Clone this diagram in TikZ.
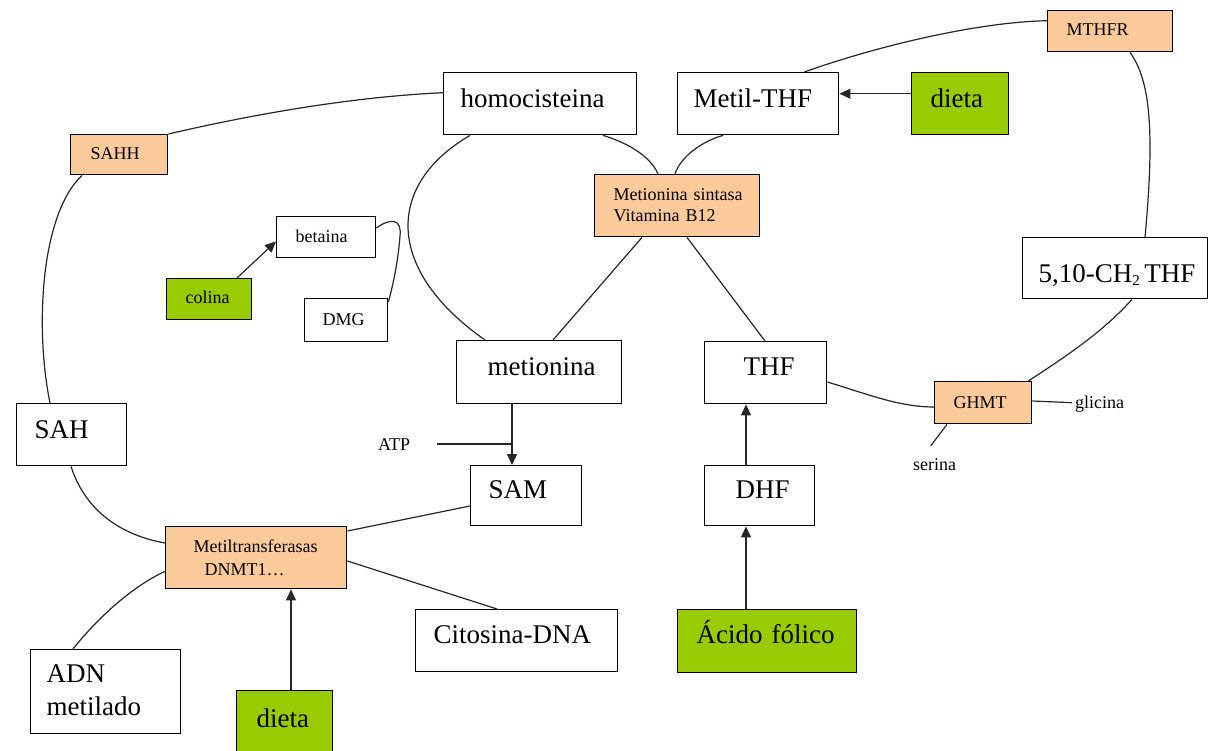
\documentclass[tikz,border=0pt]{standalone}
\usepackage{fontspec}
\setmainfont{Liberation Serif}
\usetikzlibrary{arrows.meta}
\definecolor{peach}{RGB}{251,202,154}
\definecolor{lime}{RGB}{153,204,0}
\newcommand\mysub[1]{\raisebox{-3pt}{\fontsize{15pt}{15pt}\selectfont #1}}
\tikzset{
  bx/.style={draw, line width=1.4pt, anchor=north west, inner xsep=0pt, inner ysep=0pt, align=left},
  big/.style={font=\fontsize{27pt}{33pt}\selectfont},
  sml/.style={font=\fontsize{18pt}{21pt}\selectfont},
  enz/.style={fill=peach},
  food/.style={fill=lime},
  lbl/.style={sml, inner sep=0pt, anchor=base west},
  conn/.style={line width=1.2pt, draw=black!85},
  arr/.style={conn, -{Triangle[length=11pt,width=10pt]}}
}
\begin{document}
\begin{tikzpicture}[x=1pt,y=-1pt]
\useasboundingbox (0,0) rectangle (1209,751);
\clip (0,0) rectangle (1209,751);
% boxes
\node[bx,big,text width=193pt,text height=35pt,text depth=27pt] (hom) at (443,72) {\hspace*{17pt}homocisteina};
\node[bx,big,text width=161pt,text height=35pt,text depth=27pt] (mthf) at (677,72) {\hspace*{16pt}Metil-THF};
\node[bx,big,food,text width=97pt,text height=35pt,text depth=27pt] (dieta1) at (911,72) {\hspace*{19pt}dieta};
\node[bx,sml,enz,text width=125pt,text height=25pt,text depth=16pt] (mthfr) at (1047,10) {\hspace*{19pt}MTHFR};
\node[bx,sml,enz,text width=165pt,text height=26pt,text depth=36pt] (ms) at (594,174) {\hspace*{19pt}Metionina sintasa\\\hspace*{19pt}Vitamina B12};
\node[bx,sml,enz,text width=97pt,text height=25pt,text depth=15pt] (sahh) at (70,134) {\hspace*{20pt}SAHH};
\node[bx,sml,text width=99pt,text height=26pt,text depth=15pt] (betaina) at (276,216) {\hspace*{19pt}betaina};
\node[bx,sml,food,text width=85pt,text height=25pt,text depth=16pt] (colina) at (166,278) {\hspace*{19pt}colina};
\node[bx,sml,text width=83pt,text height=27pt,text depth=16pt] (dmg) at (304,298) {\hspace*{18pt}DMG};
\node[bx,big,text width=185pt,text height=45pt,text depth=16pt] (ch2) at (1022,237) {\hspace*{16pt}5,10-CH\mysub{2}\,THF};
\node[bx,big,text width=165pt,text height=35pt,text depth=28pt] (met) at (456,340) {\hspace*{31pt}metionina};
\node[bx,big,text width=122pt,text height=34pt,text depth=28pt] (thf) at (704,341) {\hspace*{39pt}THF};
\node[bx,sml,enz,text width=97pt,text height=27pt,text depth=15pt] (ghmt) at (934,381) {\hspace*{19pt}GHMT};
\node[bx,big,text width=110pt,text height=35pt,text depth=27pt] (sah) at (16,403) {\hspace*{18pt}SAH};
\node[bx,big,text width=111pt,text height=33pt,text depth=27pt] (sam) at (470,465) {\hspace*{18pt}SAM};
\node[bx,big,text width=110pt,text height=33pt,text depth=27pt] (dhf) at (704,465) {\hspace*{31pt}DHF};
\node[bx,sml,enz,text width=181pt,text height=26pt,text depth=36pt,font=\fontsize{18pt}{23pt}\selectfont] (mt) at (165,526) {\hspace*{28pt}Metiltransferasas\\\hspace*{39pt}DNMT1…};
\node[bx,big,text width=202pt,text height=34pt,text depth=28pt] (cit) at (415,609) {\hspace*{18pt}Citosina-DNA};
\node[bx,big,food,text width=179pt,text height=34pt,text depth=29pt] (acido) at (677,609) {\hspace*{19pt}Ácido fólico};
\node[bx,big,text width=150pt,text height=33pt,text depth=51pt] (adn) at (30,649) {\hspace*{16pt}ADN\\\hspace*{16pt}metilado};
\node[bx,big,food,text width=96pt,text height=37pt,text depth=33pt] (dieta2) at (236,690) {\hspace*{20pt}dieta};
% free labels
\node[lbl] (atp) at (378,450) {ATP};
\node[lbl] (glicina) at (1075,408) {glicina};
\node[lbl] (serina) at (913,470) {serina};
\path (512,0) coordinate (jx);
\coordinate (j) at (atp.east -| jx);
% connectors
\draw[conn] (sahh.north east) .. controls (250,115) and (350,97) .. ([shift={(0,-11)}]hom.west);
\draw[conn] ([shift={(12,0)}]sahh.south west) .. controls (40,215) and (35,330) .. ([shift={(34,0)}]sah.north west);
\draw[conn] ([shift={(27,0)}]hom.south west) .. controls (385,185) and (385,270) .. ([shift={(29,0)}]met.north west);
\draw[conn] ([shift={(0,12)}]betaina.north east) .. controls (390,218) and (402,218) .. (400,236) .. controls (398,262) and (393,285) .. ([shift={(0,4)}]dmg.north east);
\draw[arr] ([shift={(71,0)}]colina.north west) -- ([shift={(0,-17)}]betaina.south west);
\draw[conn] ([shift={(160,0)}]hom.south west) .. controls (625,142) and (650,155) .. ([shift={(64,0)}]ms.north west);
\draw[conn] ([shift={(46,0)}]mthf.south west) .. controls (700,142) and (680,158) .. ([shift={(81,0)}]ms.north west);
\draw[conn] ([shift={(48,0)}]ms.south west) -- ([shift={(97,0)}]met.north west);
\draw[conn] ([shift={(93,0)}]ms.south west) -- ([shift={(61,0)}]thf.north west);
\draw[conn] ([shift={(-35,0)}]mthf.north east) .. controls (880,45) and (980,22) .. ([shift={(0,-10.5)}]mthfr.west);
\draw[conn] ([shift={(83,0)}]mthfr.south west) .. controls (1150,80) and (1155,130) .. ([shift={(123,0)}]ch2.north west);
\draw[conn] ([shift={(110,0)}]ch2.south west) .. controls (1100,335) and (1060,360) .. ([shift={(-4,0)}]ghmt.north east);
\draw[conn] ([shift={(0,41)}]thf.north east) .. controls (870,395) and (900,407) .. ([shift={(0,26)}]ghmt.north west);
\draw[conn] ([shift={(0,20)}]ghmt.north east) -- ([shift={(-3,-1)}]glicina.west);
\draw[conn] ([shift={(13,0)}]ghmt.south west) -- ([shift={(-4,-12)}]serina.north);
\draw[conn] ([shift={(27,0)}]atp.east) -- (j);
\draw[arr] ([shift={(56,0)}]met.south west) -- ([shift={(42,0)}]sam.north west);
\draw[conn] ([shift={(0,41)}]sam.north west) -- ([shift={(0,5)}]mt.north east);
\draw[conn] ([shift={(55,0)}]sah.south west) .. controls (85,510) and (120,535) .. ([shift={(0,17)}]mt.north west);
\draw[conn] ([shift={(43,0)}]adn.north west) .. controls (100,615) and (135,585) .. ([shift={(0,-18)}]mt.south west);
\draw[conn] ([shift={(0,35)}]mt.north east) -- ([shift={(82,0)}]cit.north west);
\draw[arr] ([shift={(55,0)}]dieta2.north west) -- ([shift={(126,0)}]mt.south west);
\draw[arr] ([shift={(69,0)}]acido.north west) -- ([shift={(42,0)}]dhf.south west);
\draw[arr] ([shift={(42,0)}]dhf.north west) -- ([shift={(42,0)}]thf.south west);
\draw[arr] ([shift={(0,-10)}]dieta1.west) -- ([shift={(0,-10)}]mthf.east);
\end{tikzpicture}
\end{document}
